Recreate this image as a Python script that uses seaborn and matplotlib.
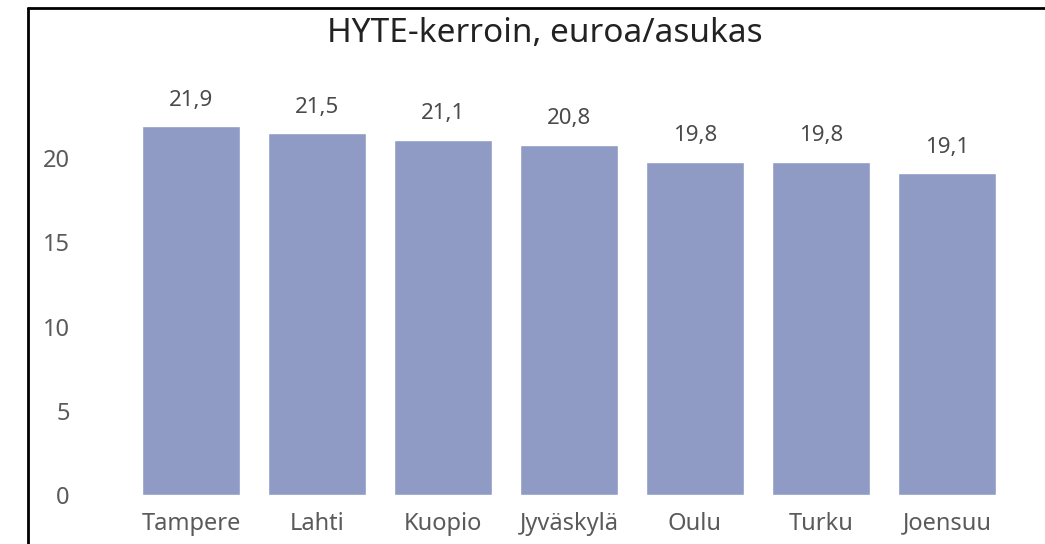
import matplotlib
matplotlib.use("Agg")
import matplotlib.pyplot as plt
from matplotlib.lines import Line2D
import seaborn as sns
import pandas as pd

cities = ["Tampere", "Lahti", "Kuopio", "Jyväskylä", "Oulu", "Turku", "Joensuu"]
values = [21.9, 21.5, 21.1, 20.8, 19.8, 19.8, 19.1]
yticks = [0, 5, 10, 15, 20]

sns.set_style("white")
plt.rcParams["font.family"] = ["Noto Sans", "DejaVu Sans"]

df = pd.DataFrame({"city": cities, "value": values})

fig = plt.figure(figsize=(10.45, 5.44), dpi=100)
ax = fig.add_axes([0.1225, 0.09, 0.844, 0.805])
sns.barplot(data=df, x="city", y="value", color="#8f9bc4", saturation=1,
            width=0.78, ax=ax)

labels = [f"{v:.1f}".replace(".", ",") for v in values]
ax.bar_label(ax.containers[0], labels=labels, padding=11, fontsize=16, color="#4a4a4a")

ax.set_ylim(0, 26)
ax.set_yticks(yticks)
ax.set_xlabel("")
ax.set_ylabel("")
ax.tick_params(axis="y", length=0, pad=42, labelsize=17, labelcolor="#5a5a5a")
ax.tick_params(axis="x", length=0, pad=12, labelsize=17, labelcolor="#5a5a5a")
sns.despine(ax=ax, left=True, bottom=True)

fig.text(0.5215, 0.938, "HYTE-kerroin, euroa/asukas", ha="center", va="center",
         fontsize=24, color="#222222")

# frame lines (left and top only, as in the cropped screenshot)
fig.add_artist(Line2D([28 / 1045, 28 / 1045], [0, 1 - 8 / 544], color="black", lw=2))
fig.add_artist(Line2D([28 / 1045, 1], [1 - 8 / 544, 1 - 8 / 544], color="black", lw=2))

fig.savefig("out.png", dpi=100)
